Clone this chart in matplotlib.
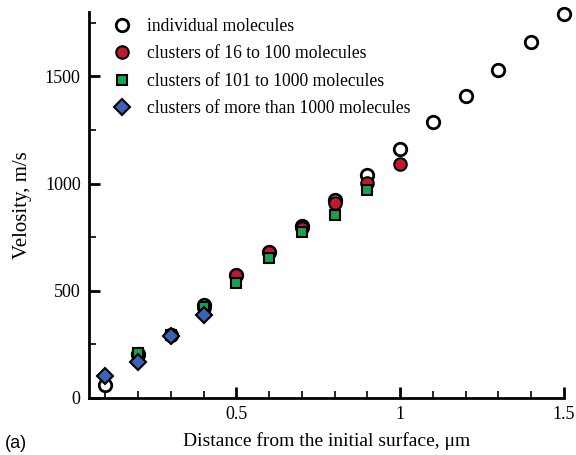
import matplotlib
import numpy as np

matplotlib.use('Agg')

import matplotlib.pyplot as plt
from matplotlib.ticker import MultipleLocator

plt.rcParams['font.family'] = 'Liberation Serif'

# individual molecules
x_ind = [0.1, 0.2, 0.3, 0.4, 0.5, 0.6, 0.7, 0.8, 0.9, 1.0, 1.1, 1.2, 1.3, 1.4, 1.5]
v_ind = [62, 205, 293, 432, 572, 682, 800, 925, 1042, 1159, 1285, 1407, 1528, 1659, 1790]

# clusters of 16 to 100 molecules
x_16 = [0.2, 0.3, 0.4, 0.5, 0.6, 0.7, 0.8, 0.9, 1.0]
v_16 = [200, 295, 420, 575, 682, 795, 907, 1003, 1093]

# clusters of 101 to 1000 molecules
x_101 = [0.2, 0.3, 0.4, 0.5, 0.6, 0.7, 0.8, 0.9]
v_101 = [208, 295, 425, 537, 654, 772, 855, 970]

# clusters of more than 1000 molecules
x_1000 = [0.1, 0.2, 0.3, 0.4]
v_1000 = [103, 170, 290, 385]

fig = plt.figure(figsize=(5.76, 4.55), dpi=100)
ax = fig.add_axes([0.1545, 0.1253, 0.8247, 0.8483])

ax.plot(x_ind, v_ind, 'o', ms=9, mfc='white', mec='black', mew=2,
        label='individual molecules', zorder=2, clip_on=False)
ax.plot(x_16, v_16, 'o', ms=9, mfc='#c0182c', mec='black', mew=1.5,
        label='clusters of 16 to 100 molecules', zorder=3, clip_on=False)
ax.plot(x_101, v_101, 's', ms=6.5, mfc='#1aa050', mec='black', mew=1.5,
        label='clusters of 101 to 1000 molecules', zorder=4, clip_on=False)
ax.plot(x_1000, v_1000, 'D', ms=8, mfc='#3b62b5', mec='black', mew=1.5,
        label='clusters of more than 1000 molecules', zorder=5, clip_on=False)

ax.set_xlim(0.05, 1.5)
ax.set_ylim(0, 1800)

ax.xaxis.set_major_locator(MultipleLocator(0.5))
ax.xaxis.set_minor_locator(MultipleLocator(0.1))
ax.yaxis.set_major_locator(MultipleLocator(500))
ax.yaxis.set_minor_locator(MultipleLocator(250))
ax.set_xticks([0.5, 1.0, 1.5])
ax.set_xticklabels(['0.5', '1', '1.5'])

ax.spines['top'].set_visible(False)
ax.spines['right'].set_visible(False)
ax.spines['left'].set_linewidth(2)
ax.spines['bottom'].set_linewidth(2)
ax.tick_params(which='major', direction='in', length=8, width=2, labelsize=13, pad=6)
ax.tick_params(which='minor', direction='in', length=5, width=1.2)

ax.set_xlabel('Distance from the initial surface, μm', fontsize=14, labelpad=6)
ax.set_ylabel('Velosity, m/s', fontsize=15, labelpad=9)

ax.legend(loc='upper left', bbox_to_anchor=(0.013, 1.025), frameon=False,
          fontsize=12.7, handletextpad=0.85, labelspacing=0.58, handlelength=1.2)

fig.text(0.008, 0.015, '(a)', fontsize=13, family='Liberation Sans')

fig.savefig('out.png', dpi=100)
